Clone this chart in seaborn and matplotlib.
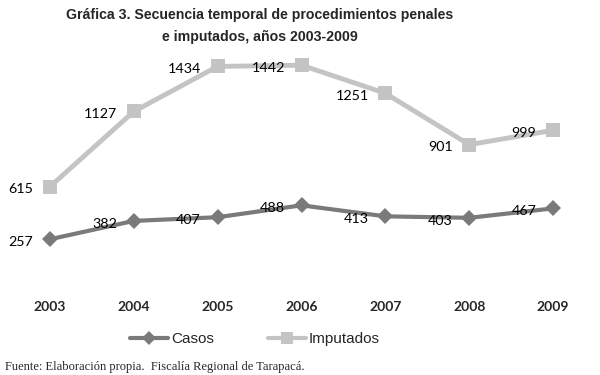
import matplotlib
matplotlib.use("Agg")
import matplotlib.pyplot as plt
from matplotlib.lines import Line2D
import seaborn as sns
import pandas as pd

years = ["2003", "2004", "2005", "2006", "2007", "2008", "2009"]
casos = [257, 382, 407, 488, 413, 403, 467]
imputados = [615, 1127, 1434, 1442, 1251, 901, 999]

sns.set_theme(style="white")
plt.rcParams['font.family'] = ['Liberation Sans', 'DejaVu Sans']

c_casos = "#7a7a7a"
c_imp = "#c4c4c4"

fig = plt.figure(figsize=(6, 3.75), dpi=100)
ax = fig.add_axes([8/600, 1-277/375, 587/600, 235/375])

df = pd.DataFrame({"x": list(range(len(years))) * 2,
                   "v": imputados + casos,
                   "s": ["Imputados"] * 7 + ["Casos"] * 7})
sns.lineplot(data=df[df.s == "Imputados"], x="x", y="v", ax=ax, color=c_imp,
             linewidth=3.5, marker="s", markersize=10, markeredgewidth=0, legend=False)
sns.lineplot(data=df[df.s == "Casos"], x="x", y="v", ax=ax, color=c_casos,
             linewidth=3, marker="D", markersize=8, markeredgewidth=0, legend=False)

for i in range(len(years)):
    ax.annotate(str(imputados[i]), (i, imputados[i]), xytext=(-12, -2), textcoords="offset points",
                ha="right", va="center", fontsize=10.3, family=["Lato", "DejaVu Sans"], color="black")
    ax.annotate(str(casos[i]), (i, casos[i]), xytext=(-12, -2), textcoords="offset points",
                ha="right", va="center", fontsize=10.3, family=["Lato", "DejaVu Sans"], color="black")

ax.set_xlim(-0.5, 6.5)
ax.set_ylim(0, 1600)
ax.set_xticks(range(len(years)))
ax.set_xticklabels(years, fontsize=10, fontweight="bold", family=["Lato", "DejaVu Sans"])
ax.tick_params(axis="x", length=0, pad=17)
ax.set_yticks([])
ax.set_xlabel("")
ax.set_ylabel("")
for sp in ax.spines.values():
    sp.set_visible(False)

fig.text(260/600, 1-26/375, "Gráfica 3. Secuencia temporal de procedimientos penales\ne imputados, años 2003-2009",
         ha="center", va="center", fontsize=10.2, fontweight="bold", linespacing=1.65)

handles = [Line2D([0], [0], color=c_casos, lw=3, marker="D", markersize=7, markeredgewidth=0),
           Line2D([0], [0], color=c_imp, lw=3, marker="s", markersize=8, markeredgewidth=0)]
fig.legend(handles, ["Casos", "Imputados"], loc="center", bbox_to_anchor=(255/600, 1-339/375),
           ncol=2, frameon=False, fontsize=11, handlelength=2.5, handletextpad=0.2, columnspacing=3.5)

fig.text(5/600, 1-367/375, "Fuente: Elaboración propia.  Fiscalía Regional de Tarapacá.",
         ha="left", va="center", fontsize=9, family=["Liberation Serif", "DejaVu Serif"])

fig.savefig("out.png", dpi=100, facecolor="white")
